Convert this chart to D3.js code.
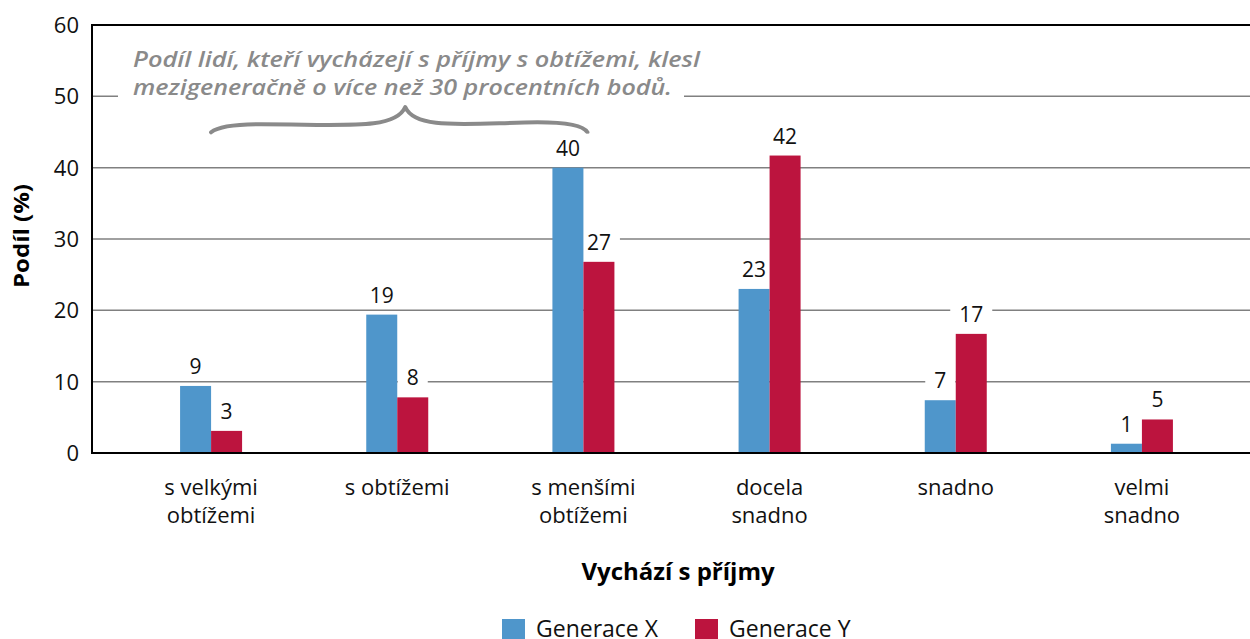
<!DOCTYPE html>
<html>
<head>
<meta charset="utf-8">
<script src="https://cdn.jsdelivr.net/npm/d3@7"></script>
<style>
  body { margin: 0; background: #fff; }
  text { font-family: "Open Sans", Lato, sans-serif; }
</style>
</head>
<body>
<svg id="chart" width="1250" height="639"></svg>
<script>
// data
var categories = ["s velkými|obtížemi", "s obtížemi", "s menšími|obtížemi", "docela|snadno", "snadno", "velmi|snadno"];
var genX = [9.4, 19.4, 40.0, 23.0, 7.4, 1.3];
var genY = [3.1, 7.8, 26.8, 41.7, 16.7, 4.7];
var seriesNames = ["Generace X", "Generace Y"];
var colors = ["#4f96cb", "#bc143e"];
var yTicks = [0, 10, 20, 30, 40, 50, 60];
var note = ["Podíl lidí, kteří vycházejí s příjmy s obtížemi, klesl",
            "mezigeneračně o více než 30 procentních bodů."];

var svg = d3.select("#chart");
var plotL = 92, plotR = 1250, plotT = 25, plotB = 453;

var x = d3.scaleBand().domain(d3.range(categories.length)).range([118, 1235]);
var x1 = d3.scaleBand().domain([0, 1]).range([x.bandwidth() / 2 - 31, x.bandwidth() / 2 + 31]);
var y = d3.scaleLinear().domain([0, 60]).range([plotB, plotT]);
var series = [genX, genY];

// gridlines
svg.append("g").selectAll("line")
    .data(yTicks.filter(function(d){ return d > 0 && d < 60; }))
  .enter().append("line")
    .attr("x1", plotL).attr("x2", plotR)
    .attr("y1", function(d){ return y(d); }).attr("y2", function(d){ return y(d); })
    .attr("stroke", "#808080").attr("stroke-width", 1.5);

// y tick labels
svg.append("g").selectAll("text")
    .data(yTicks)
  .enter().append("text")
    .attr("x", 79).attr("y", function(d){ return y(d) + 8; })
    .attr("text-anchor", "end")
    .attr("font-size", "22px")
    .attr("fill", "#111")
    .text(function(d){ return d; });

// annotation text box (white background covers gridline)
var noteG = svg.append("g");
noteG.append("rect")
    .attr("x", 118).attr("y", y(58) - 4).attr("width", 566).attr("height", 70)
    .attr("fill", "#fff");
noteG.selectAll("text")
    .data(note)
  .enter().append("text")
    .attr("x", 133)
    .attr("y", function(d, i){ return 67 + i * 28; })
    .attr("font-style", "italic")
    .attr("font-weight", 600)
    .attr("font-size", "21px")
    .attr("fill", "#8a8a8a")
    .attr("textLength", function(d, i){ return i === 0 ? 567 : 539; })
    .attr("lengthAdjust", "spacingAndGlyphs")
    .text(function(d){ return d; });

// brace under the note
var bx0 = x(0) + x.bandwidth() / 2, bx1 = x(2) + x.bandwidth() / 2 + 4, bm = x(1) + x.bandwidth() / 2 + 8;
var by = y(45.8), bpk = y(48.5);
svg.append("path")
    .attr("d", "M" + bx0 + "," + (by + 6) +
               " Q" + (bx0 + 10) + "," + (by - 2) + " " + (bx0 + 50) + "," + (by - 2) +
               " C" + (bm - 60) + "," + (by - 2) + " " + (bm - 10) + "," + (by + 4) + " " + bm + "," + bpk +
               " C" + (bm + 10) + "," + (by + 4) + " " + (bm + 60) + "," + (by - 3) + " " + (bx1 - 50) + "," + (by - 4) +
               " Q" + (bx1 - 6) + "," + (by - 4) + " " + bx1 + "," + (by + 6))
    .attr("fill", "none").attr("stroke", "#8a8a8a").attr("stroke-width", 4)
    .attr("stroke-linecap", "round").attr("stroke-linejoin", "round");

// value labels data
var labels = [];
series.forEach(function(vals, s) {
  vals.forEach(function(v, i) {
    labels.push({ v: v, cx: x(i) + x1(s) + x1.bandwidth() / 2, s: s });
  });
});
function boxW(d){ return String(Math.round(d.v)).length * 12 + 18; }

// white boxes behind labels (hide gridlines, not bars)
svg.append("g").selectAll("rect")
    .data(labels)
  .enter().append("rect")
    .attr("x", function(d){ return d.cx - boxW(d) / 2; })
    .attr("width", boxW)
    .attr("y", function(d){ return y(d.v) - 34; })
    .attr("height", 28)
    .attr("fill", "#fff");

// bars
var groups = svg.append("g").selectAll("g")
    .data(series)
  .enter().append("g")
    .attr("fill", function(d, i){ return colors[i]; });

groups.each(function(vals, s) {
  d3.select(this).selectAll("rect")
      .data(vals)
    .enter().append("rect")
      .attr("x", function(d, i){ return x(i) + x1(s); })
      .attr("width", x1.bandwidth())
      .attr("y", function(d){ return y(d); })
      .attr("height", function(d){ return y(0) - y(d); });
});

svg.append("g").selectAll("text")
    .data(labels)
  .enter().append("text")
    .attr("x", function(d){ return d.cx; })
    .attr("y", function(d){ return y(d.v) - 12; })
    .attr("text-anchor", "middle")
    .attr("font-size", "21px")
    .attr("fill", "#111")
    .text(function(d){ return Math.round(d.v); });

// axes lines
svg.append("line").attr("x1", plotL).attr("x2", plotR).attr("y1", plotT).attr("y2", plotT)
    .attr("stroke", "#000").attr("stroke-width", 2);
svg.append("line").attr("x1", plotL).attr("x2", plotR).attr("y1", plotB).attr("y2", plotB)
    .attr("stroke", "#000").attr("stroke-width", 2);
svg.append("line").attr("x1", plotL).attr("x2", plotL).attr("y1", plotT - 1).attr("y2", plotB + 1)
    .attr("stroke", "#000").attr("stroke-width", 2);

// category labels
var cat = svg.append("g").selectAll("text")
    .data(categories)
  .enter().append("text")
    .attr("x", function(d, i){ return x(i) + x.bandwidth() / 2; })
    .attr("y", 495)
    .attr("text-anchor", "middle")
    .attr("font-size", "22px")
    .attr("fill", "#111");
cat.selectAll("tspan")
    .data(function(d){ return d.split("|"); })
  .enter().append("tspan")
    .attr("x", function(){ return d3.select(this.parentNode).attr("x"); })
    .attr("dy", function(d, i){ return i === 0 ? 0 : 28; })
    .text(function(d){ return d; });

// axis titles
svg.append("text")
    .attr("transform", "translate(29,236) rotate(-90)")
    .attr("text-anchor", "middle")
    .attr("font-family", "'Liberation Sans', Arial, sans-serif")
    .attr("font-size", "21px").attr("font-weight", "bold")
    .attr("textLength", 104).attr("lengthAdjust", "spacingAndGlyphs")
    .text("Podíl (%)");
svg.append("text")
    .attr("x", 678).attr("y", 580)
    .attr("text-anchor", "middle")
    .attr("font-size", "24px").attr("font-weight", "bold")
    .text("Vychází s příjmy");

// legend
var leg = svg.append("g").selectAll("g")
    .data(seriesNames)
  .enter().append("g")
    .attr("transform", function(d, i){ return "translate(" + (502 + i * 193) + ",619)"; });
leg.append("rect").attr("width", 23).attr("height", 20)
    .attr("fill", function(d, i){ return colors[i]; });
leg.append("text").attr("x", 34).attr("y", 18)
    .attr("font-size", "23px").attr("fill", "#111")
    .text(function(d){ return d; });
</script>
</body>
</html>
